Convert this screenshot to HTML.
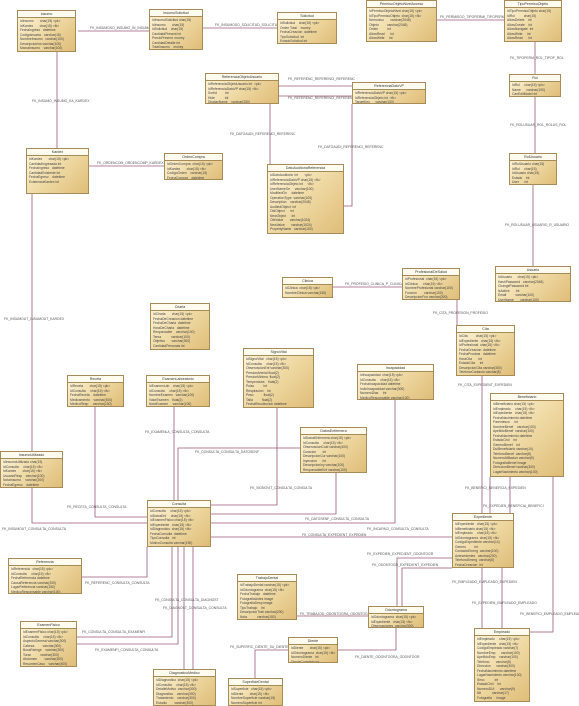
<!DOCTYPE html>
<html><head><meta charset="utf-8"><style>
body{margin:0;width:579px;height:706px;background:#fff;position:relative;overflow:hidden;font-family:"Liberation Sans",sans-serif}
.b{position:absolute;border:1px solid #a88c58;background:linear-gradient(135deg,#fff6dc 0%,#efd9a3 50%,#dfbd78 100%);box-sizing:border-box;overflow:hidden}
.h{height:6px;border-bottom:1px solid #a88c58;background:#fffbee;font-size:3.6px;line-height:6px;text-align:center;color:#333}
.r{font-size:3.3px;line-height:4.5px;white-space:pre;color:#444;padding:1px 2px}
.l{position:absolute;font-size:3.4px;color:#555;white-space:nowrap}
svg{position:absolute;left:0;top:0}
</style></head><body>
<svg width="579" height="706" fill="none" stroke="#9a5a7a" stroke-width="0.8">
<polyline points="78,31 149,31"/><polyline points="203,28 277,28"/><polyline points="437,20 504,20"/>
<polyline points="535,42 535,74"/><polyline points="535,97 535,153"/><polyline points="533,185 533,266"/>
<polyline points="279,86 352,86"/><polyline points="279,96 352,96"/><polyline points="270,164 270,104"/>
<polyline points="344,206 352,206 352,104"/><polyline points="57,52 57,148"/><polyline points="89,166 164,166"/>
<polyline points="333,287 402,287"/><polyline points="457,325 457,300"/>
<polyline points="32,194 32,523 147,523"/><polyline points="95,407 95,517 147,517"/><polyline points="174,407 174,500"/>
<polyline points="277,408 277,505 211,505"/><polyline points="336,473 336,514 211,514"/><polyline points="395,400 395,523 211,523"/>
<polyline points="178,500 178,448 300,448"/><polyline points="211,537 452,537"/><polyline points="82,577 147,577 147,547"/>
<polyline points="172,547 172,637 77,637"/><polyline points="178,547 178,644 77,644"/><polyline points="184,547 184,669"/><polyline points="193,547 193,669"/>
<polyline points="482,376 482,513"/><polyline points="490,477 490,513"/><polyline points="510,477 510,513"/>
<polyline points="452,558 397,558 397,606"/><polyline points="452,568 402,568 402,606"/>
<polyline points="482,568 482,628"/><polyline points="502,568 502,628"/><polyline points="553,477 553,632 530,632"/>
<polyline points="297,616 368,616"/><polyline points="338,650 396,650 396,628"/><polyline points="255,678 255,650 288,650"/>
</svg>
<div class="l" style="left:90px;top:26px">FK_INSUMOSO_INSUMO_IN_INSUMO</div>
<div class="l" style="left:215px;top:23px">FK_INSUMOSO_SOLICITUD_SOLICITU</div>
<div class="l" style="left:440px;top:15px">FK_PERMISOO_TIPOPERMI_TIPOPERM</div>
<div class="l" style="left:510px;top:56px">FK_TIPOPERM_ROL_TIPOP_ROL</div>
<div class="l" style="left:510px;top:123px">FK_ROLUSUAR_ROL_ROLUS_ROL</div>
<div class="l" style="left:505px;top:223px">FK_ROLUSUAR_USUARIO_R_USUARIO</div>
<div class="l" style="left:288px;top:77px">FK_REFERENC_REFERENCI_REFERENC</div>
<div class="l" style="left:288px;top:96px">FK_REFERENC_REFERENCI_REFERENC</div>
<div class="l" style="left:230px;top:132px">FK_DATOAUDI_REFERENCI_REFERENC</div>
<div class="l" style="left:318px;top:145px">FK_DATOAUDI_REFERENCI_REFERENC</div>
<div class="l" style="left:32px;top:99px">FK_INSUMO_INSUMO_KA_KARDEX</div>
<div class="l" style="left:97px;top:161px">FK_ORDENCOM_ORDENCOMP_KARDEX</div>
<div class="l" style="left:345px;top:282px">FK_PROFESIO_CLINICA_P_CLINICA</div>
<div class="l" style="left:433px;top:311px">FK_CITA_PROFESION_PROFESIO</div>
<div class="l" style="left:4px;top:317px">FK_INSUMOUT_INSUMOUT_KARDEX</div>
<div class="l" style="left:458px;top:383px">FK_CITA_EXPEDIENT_EXPEDIEN</div>
<div class="l" style="left:145px;top:430px">FK_EXAMENLA_CONSULTA_CONSULTA</div>
<div class="l" style="left:195px;top:450px">FK_CONSULTA_CONSULTA_DATOSENF</div>
<div class="l" style="left:250px;top:486px">FK_SIGNOVIT_CONSULTA_CONSULTA</div>
<div class="l" style="left:67px;top:505px">FK_RECETA_CONSULTA_CONSULTA</div>
<div class="l" style="left:2px;top:527px">FK_INSUMOUT_CONSULTA_CONSULTA</div>
<div class="l" style="left:305px;top:517px">FK_DATOSENF_CONSULTA_CONSULTA</div>
<div class="l" style="left:367px;top:527px">FK_INCAPACI_CONSULTA_CONSULTA</div>
<div class="l" style="left:302px;top:533px">FK_CONSULTA_EXPEDIENT_EXPEDIEN</div>
<div class="l" style="left:465px;top:486px">FK_BENEFICI_BENEFICIA_EXPEDIEN</div>
<div class="l" style="left:483px;top:504px">FK_EXPEDIEN_BENEFICIA_BENEFICI</div>
<div class="l" style="left:367px;top:552px">FK_EXPEDIEN_EXPEDIENT_ODONTOGR</div>
<div class="l" style="left:372px;top:563px">FK_ODONTOGR_EXPEDIENT_EXPEDIEN</div>
<div class="l" style="left:85px;top:581px">FK_REFERENC_CONSULTA_CONSULTA</div>
<div class="l" style="left:155px;top:598px">FK_CONSULTA_CONSULTA_DIAGNOST</div>
<div class="l" style="left:163px;top:606px">FK_DIAGNOST_CONSULTA_CONSULTA</div>
<div class="l" style="left:82px;top:630px">FK_CONSULTA_CONSULTA_EXAMENFI</div>
<div class="l" style="left:95px;top:648px">FK_EXAMENFI_CONSULTA_CONSULTA</div>
<div class="l" style="left:452px;top:580px">FK_EMPLEADO_EMPLEADO_EXPEDIEN</div>
<div class="l" style="left:472px;top:601px">FK_EXPEDIEN_EMPLEADO_EMPLEADO</div>
<div class="l" style="left:520px;top:612px">FK_BENEFICI_EMPLEADO_EMPLEADO</div>
<div class="l" style="left:300px;top:612px">FK_TRABAJOD_ODONTOGRA_ODONTOGR</div>
<div class="l" style="left:230px;top:645px">FK_SUPERFIC_DIENTE_SU_DIENTE</div>
<div class="l" style="left:355px;top:655px">FK_DIENTE_ODONTOGRA_ODONTOGR</div>

<div class="b" style="left:17px;top:10px;width:59px;height:42px"><div class="h">Insumo</div><div class="r">IdInsumo       char(15) &lt;pk&gt;
IdKardex       char(15) &lt;fk&gt;
FechaIngreso   datetime
CodigoInsumo   varchar(15)
NombreInsumo   varchar(100)
DescripcionIns varchar(100)
MarcaInsumo    varchar(100)</div></div>
<div class="b" style="left:149px;top:9px;width:54px;height:41px"><div class="h">InsumoSolicitud</div><div class="r">IdInsumoSolicitud char(15)
IdInsumo       char(15)
IdSolicitud    char(15)
CantidadPresent int
PrecioPresent  money
CantidadDetalle int
TotalInsumo    money</div></div>
<div class="b" style="left:277px;top:12px;width:60px;height:32px"><div class="h">Solicitud</div><div class="r">IdSolicitud    char(15) &lt;pk&gt;
Orden Total    money
FechaCreacion  datetime
TipoSolicitud  int
EstadoSolicitud int</div></div>
<div class="b" style="left:366px;top:0px;width:71px;height:42px"><div class="h">PermisoObjetoNivelAcceso</div><div class="r">IdPermisoObjetoNivel char(15) &lt;pk&gt;
IdTipoPermisoObjeto  char(15) &lt;fk&gt;
Nemonico       varchar(2048)
Objeto         varchar(2048)
Orden          int
AllowRead      int
AllowWrite     int</div></div>
<div class="b" style="left:504px;top:0px;width:58px;height:42px"><div class="h">TipoPermisoObjeto</div><div class="r">IdTipoPermisoObjeto char(15)
IdRol          char(15)
AllowDelete    int
AllowCreate    int
AllowNavigate  int
AllowWrite     int
AllowRead      int</div></div>
<div class="b" style="left:205px;top:73px;width:74px;height:31px"><div class="h">ReferenciaObjetoUsuario</div><div class="r">IdReferenciaObjetoUsuario int  &lt;pk&gt;
IdReferenciaDatoVP char(15) &lt;fk&gt;
SortId         int
Hide           int
DisplayName    varchar(250)</div></div>
<div class="b" style="left:352px;top:82px;width:74px;height:22px"><div class="h">ReferenciaDatoVP</div><div class="r">IdReferenciaDatoVP char(15) &lt;pk&gt;
IdReferenciaObjeto int  &lt;fk&gt;
TargetKey      varchar(100)</div></div>
<div class="b" style="left:509px;top:74px;width:52px;height:23px"><div class="h">Rol</div><div class="r">IdRol     char(15) &lt;pk&gt;
Name      varchar(100)
CanEditModel int</div></div>
<div class="b" style="left:26px;top:148px;width:63px;height:46px"><div class="h">Kardex</div><div class="r">IdKardex       char(15) &lt;pk&gt;
CantidadIngresada int
FechaIngreso   datetime
CantidadExistente int
FechaEgreso    datetime
ExistenciaKardex int</div></div>
<div class="b" style="left:164px;top:153px;width:59px;height:27px"><div class="h">OrdenCompra</div><div class="r">IdOrdenCompra  char(15) &lt;pk&gt;
IdKardex       char(15) &lt;fk&gt;
CodigoOrden    varchar(15)
FechaCompra    datetime</div></div>
<div class="b" style="left:267px;top:164px;width:77px;height:70px"><div class="h">DatoAuditoriaReferencia</div><div class="r">IdDatoAuditoria  int       &lt;pk&gt;
IdReferenciaDatoVP char(15) &lt;fk&gt;
IdReferenciaObjeto int     &lt;fk&gt;
UserNameOn     varchar(100)
ModifiedOn     datetime
OperationType  varchar(100)
Description    varchar(2048)
AuditedObject  int
OldObject      int
NewObject      int
OldValue       varchar(1024)
NewValue       varchar(1024)
PropertyName   varchar(100)</div></div>
<div class="b" style="left:509px;top:153px;width:48px;height:32px"><div class="h">RolUsuario</div><div class="r">IdRolUsuario char(15)
IdRol     char(15)
IdUsuario char(15)
Estado    int
User      int</div></div>
<div class="b" style="left:495px;top:266px;width:76px;height:36px"><div class="h">Usuario</div><div class="r">IdUsuario      char(15) &lt;pk&gt;
HashPassword   varchar(2048)
ChangePassword int
IsActive       int
Email          varchar(100)
UserName       varchar(100)</div></div>
<div class="b" style="left:282px;top:277px;width:51px;height:21px"><div class="h">Clinica</div><div class="r">IdClinica  char(15) &lt;pk&gt;
NombreClinica varchar(150)</div></div>
<div class="b" style="left:402px;top:268px;width:58px;height:32px"><div class="h">ProfesionalDeSalud</div><div class="r">IdProfesional  char(15) &lt;pk&gt;
IdClinica      char(15) &lt;fk&gt;
NombreProfesional varchar(100)
Funcion        varchar(100)
DescripcionFun varchar(300)</div></div>
<div class="b" style="left:150px;top:303px;width:60px;height:47px"><div class="h">Charla</div><div class="r">IdCharla       char(15) &lt;pk&gt;
FechaDeCreacion datetime
FechaDeCharla  datetime
HoraDeCharla   datetime
Responsable    varchar(100)
Tema           varchar(100)
Objetivo       varchar(300)
CantidadPersonas int</div></div>
<div class="b" style="left:456px;top:325px;width:59px;height:51px"><div class="h">Cita</div><div class="r">IdCita         char(15) &lt;pk&gt;
IdExpediente   char(15) &lt;fk&gt;
IdProfesional  char(15) &lt;fk&gt;
FechaCreacion  datetime
FechaProxima   datetime
HoraCita       int
EstadoCita     int
DescripcionCita varchar(300)
TelefonoContacto varchar(8)</div></div>
<div class="b" style="left:243px;top:348px;width:71px;height:60px"><div class="h">SignoVital</div><div class="r">IdSignoVital   char(15) &lt;pk&gt;
IdConsulta     char(15) &lt;fk&gt;
ObservacionEnf varchar(300)
PresionArterial float(2)
PresionMinima  float(2)
Temperatura    float(2)
Pulso          int
Respiracion    int
Peso           float(2)
Talla          float(2)
FechaRecoleccion datetime</div></div>
<div class="b" style="left:67px;top:375px;width:57px;height:32px"><div class="h">Receta</div><div class="r">IdReceta       char(15) &lt;pk&gt;
IdConsulta     char(15) &lt;fk&gt;
FechaReceta    datetime
Medicamento    varchar(300)
MedicoResp     varchar(100)</div></div>
<div class="b" style="left:146px;top:375px;width:64px;height:32px"><div class="h">ExamenLaboratorio</div><div class="r">IdExamenLab    char(15) &lt;pk&gt;
IdConsulta     char(15) &lt;fk&gt;
NombreExamen   varchar(100)
ValorExamen    float(2)
NotaExamen     varchar(100)</div></div>
<div class="b" style="left:357px;top:364px;width:77px;height:36px"><div class="h">Incapacidad</div><div class="r">IdIncapacidad  char(15) &lt;pk&gt;
IdConsulta     char(15) &lt;fk&gt;
FechaIncapacidad datetime
IndicIncapacidad varchar(300)
NumeroDias     int
MedicoResponsable varchar(100)</div></div>
<div class="b" style="left:490px;top:393px;width:74px;height:84px"><div class="h">Beneficiario</div><div class="r">IdBeneficiario char(15) &lt;pk&gt;
IdEmpleado     char(15) &lt;fk&gt;
IdExpediente   char(15) &lt;fk&gt;
FechaNacimiento datetime
Parentesco     int
NombreBenef    varchar(100)
ApellidoBenef  varchar(100)
FechaNacimiento datetime
EstadoCivil    int
GeneroBenef    int
DuiBeneficiario varchar(10)
TelefonoBenef  varchar(8)
NumeroAfiliacion varchar(9)
FotografiaBenef image
DireccionBenef varchar(300)
LugarNacimiento varchar(100)</div></div>
<div class="b" style="left:0px;top:451px;width:63px;height:37px"><div class="h">InsumoUtilizado</div><div class="r">IdInsumoUtilizado char(15)
IdConsulta     char(15) &lt;fk&gt;
IdKardex       char(15) &lt;fk&gt;
UsuarioResp    varchar(100)
NotaInsumo     varchar(200)
FechaEgreso    datetime</div></div>
<div class="b" style="left:300px;top:427px;width:67px;height:46px"><div class="h">DatosEnfermera</div><div class="r">IdDatosEnfermera char(15) &lt;pk&gt;
IdConsulta     char(15) &lt;fk&gt;
ObservacionCuid varchar(400)
Curacion       int
DescripcionCur varchar(100)
Inyeccion      int
DescripcionIny varchar(100)
ResponsableEnf varchar(100)</div></div>
<div class="b" style="left:147px;top:500px;width:64px;height:47px"><div class="h">Consulta</div><div class="r">IdConsulta     char(15) &lt;pk&gt;
IdDatosEnf     char(15) &lt;fk&gt;
IdExamenFisico char(15) &lt;fk&gt;
IdExpediente   char(15) &lt;fk&gt;
IdDiagnostico  char(15) &lt;fk&gt;
FechaConsulta  datetime
TipoConsulta   int
MotivoConsulta varchar(150)</div></div>
<div class="b" style="left:452px;top:513px;width:62px;height:55px"><div class="h">Expediente</div><div class="r">IdExpediente   char(15) &lt;pk&gt;
IdBeneficiario char(15) &lt;fk&gt;
IdEmpleado     char(15) &lt;fk&gt;
IdOdontograma  char(15) &lt;fk&gt;
CodigoExpediente varchar(14)
Genero         int
ContactoEmerg  varchar(100)
Antecedentes   varchar(200)
TelefonoEmerg  varchar(8)
FechaCreacion  int</div></div>
<div class="b" style="left:8px;top:558px;width:74px;height:36px"><div class="h">Referencia</div><div class="r">IdReferencia   char(15) &lt;pk&gt;
IdConsulta     char(15) &lt;fk&gt;
FechaReferencia datetime
CausaReferencia varchar(200)
LugarReferencia varchar(150)
MedicoResponsable varchar(100)</div></div>
<div class="b" style="left:237px;top:574px;width:60px;height:46px"><div class="h">TrabajoDental</div><div class="r">IdTrabajoDental varchar(15) &lt;pk&gt;
IdOdontograma  char(15) &lt;fk&gt;
FechaTrabajo   datetime
FotografiaAntes image
FotografiaDesp image
TipoTrabajo    int
DescripcionTrab varchar(200)
Nota           varchar(150)</div></div>
<div class="b" style="left:368px;top:606px;width:56px;height:22px"><div class="h">Odontograma</div><div class="r">IdOdontograma  char(15) &lt;pk&gt;
IdExpediente   char(15) &lt;fk&gt;
Observaciones  varchar(300)</div></div>
<div class="b" style="left:20px;top:621px;width:57px;height:46px"><div class="h">ExamenFisico</div><div class="r">IdExamenFisico char(15) &lt;pk&gt;
IdConsulta     char(15) &lt;fk&gt;
AspectoGeneral varchar(300)
Cabeza         varchar(300)
BocaFaringe    varchar(300)
Torax          varchar(300)
Abdomen        varchar(300)
ResumenCaso    varchar(400)</div></div>
<div class="b" style="left:288px;top:637px;width:50px;height:26px"><div class="h">Diente</div><div class="r">IdDiente       char(15) &lt;pk&gt;
IdOdontograma  char(15) &lt;fk&gt;
NumeroDiente   int
DienteCompleto int</div></div>
<div class="b" style="left:474px;top:628px;width:56px;height:74px"><div class="h">Empleado</div><div class="r">IdEmpleado     char(15) &lt;pk&gt;
IdExpediente   char(15) &lt;fk&gt;
CodigoEmpleado varchar(7)
NombreEmp      varchar(100)
ApellidoEmp    varchar(100)
Telefono       varchar(8)
Direccion      varchar(300)
FechaNacimiento datetime
LugarNacimiento varchar(100)
Sexo           int
EstadoCivil    int
NumeroDUI      varchar(9)
Nit            varchar(17)
Fotografia     image</div></div>
<div class="b" style="left:153px;top:669px;width:63px;height:37px"><div class="h">DiagnosticoMedico</div><div class="r">IdDiagnostico  char(15) &lt;pk&gt;
IdConsulta     char(15) &lt;fk&gt;
DetalleMotivo  varchar(300)
Diagnostico    varchar(300)
Tratamiento    varchar(300)
Estudio        varchar(300)</div></div>
<div class="b" style="left:228px;top:678px;width:55px;height:28px"><div class="h">SuperficieDental</div><div class="r">IdSuperficie   char(15) &lt;pk&gt;
IdDiente       char(15) &lt;fk&gt;
NombreSuperficie varchar(15)
NumeroSuperficie int</div></div>
</body></html>
